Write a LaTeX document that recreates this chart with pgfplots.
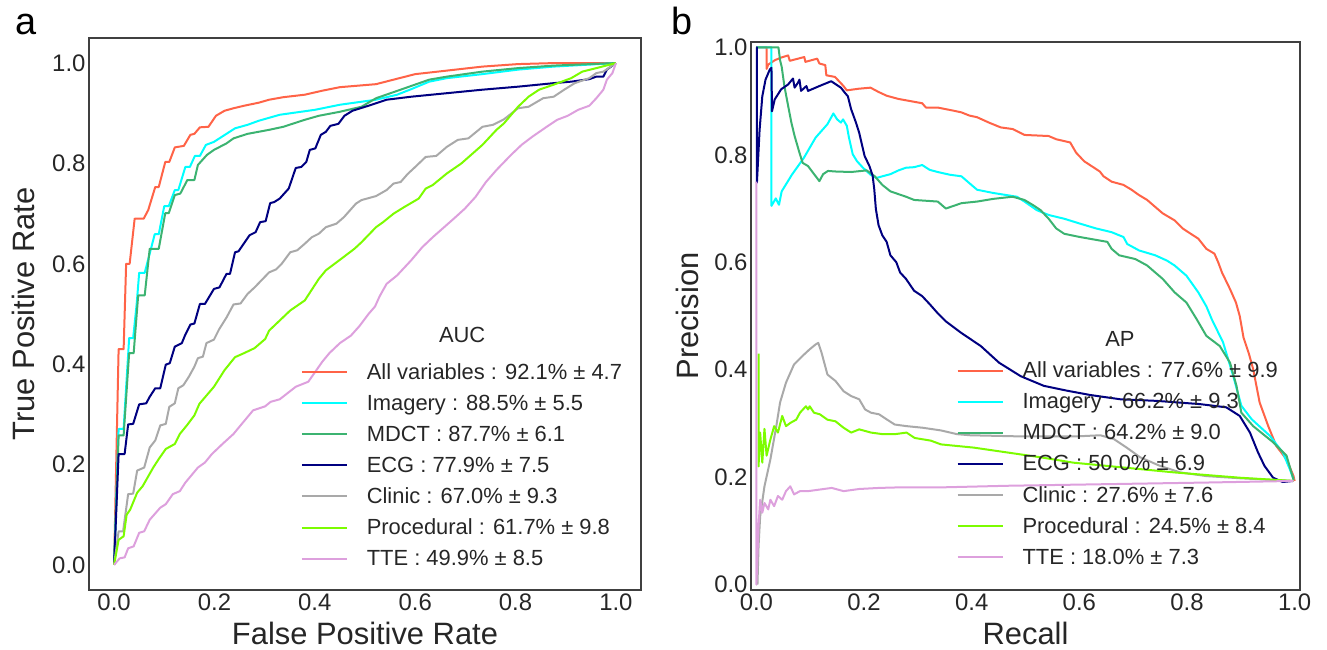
\documentclass[border=0pt]{standalone}
\usepackage{fontspec}
\setmainfont{Liberation Sans}
\usepackage{pgfplots}
\pgfplotsset{compat=1.18}

\definecolor{cAll}{RGB}{255,99,71}
\definecolor{cImg}{RGB}{0,255,255}
\definecolor{cMdct}{RGB}{60,179,113}
\definecolor{cEcg}{RGB}{0,0,128}
\definecolor{cCli}{RGB}{169,169,169}
\definecolor{cProc}{RGB}{124,252,0}
\definecolor{cTte}{RGB}{221,160,221}
\definecolor{txt}{RGB}{38,38,38}

\pgfplotsset{
  panel/.style={
    scale only axis,
    axis line style={black!75, line width=1.5bp},
    major tick length=0pt, tick style={draw=none},
    xtick={0,0.2,0.4,0.6,0.8,1}, ytick={0,0.2,0.4,0.6,0.8,1},
    ticklabel style={font=\fontsize{24}{28}\selectfont, text=txt},
    /pgf/number format/assume math mode=true,
    /pgf/number format/.cd, fixed, fixed zerofill, precision=1, /pgfplots/.cd,
    label style={font=\fontsize{31}{36}\selectfont, text=txt},
    xlabel style={at={(axis description cs:0.5,0)}, anchor=base, yshift=-54bp},
    every axis plot/.append style={line width=2bp, line join=round},
    legend cell align=left,
    legend style={draw=none, fill=none, font=\fontsize{22}{26}\selectfont, text=txt,
      inner sep=0pt, outer sep=0pt, row sep=14.1bp, anchor=south east,
      nodes={inner xsep=9bp, inner ysep=0bp},
      /tikz/every odd column/.append style={column sep=10bp}},
    legend image code/.code={\draw[#1] (0bp,0bp) -- (45bp,0bp);},
  }
}

\begin{document}
\begin{tikzpicture}
\useasboundingbox (0,0) rectangle (1327bp,650bp);

\node[anchor=base, font=\fontsize{38}{44}\selectfont, text=black] at (26bp,615bp) {a};
\node[anchor=base, font=\fontsize{38}{44}\selectfont, text=black] at (682bp,615bp) {b};

% ---------- ROC ----------
\begin{axis}[panel,
  at={(89bp,60bp)}, anchor=south west,
  width=552bp, height=552bp,
  xmin=-0.05, xmax=1.05, ymin=-0.05, ymax=1.05,
  xlabel={False Positive Rate}, ylabel={True Positive Rate},
  ylabel style={at={(axis description cs:-0.098,0.5)}, anchor=base},
  legend style={at={(axis description cs:0.982,0.041)}},
]
\addplot[cAll] coordinates {(0,0) (0.009,0.43) (0.019,0.43) (0.024,0.6) (0.031,0.6) (0.041,0.69) (0.05,0.69) (0.059,0.69) (0.068,0.707) (0.082,0.753) (0.089,0.753) (0.102,0.803) (0.11,0.803) (0.121,0.832) (0.139,0.835) (0.152,0.857) (0.16,0.859) (0.171,0.872) (0.188,0.873) (0.203,0.895) (0.22,0.905) (0.238,0.91) (0.259,0.915) (0.288,0.921) (0.309,0.927) (0.337,0.932) (0.38,0.937) (0.415,0.945) (0.45,0.952) (0.522,0.958) (0.557,0.967) (0.6,0.978) (0.663,0.985) (0.734,0.993) (0.805,0.998) (0.876,1.0) (1,1)};
\addplot[cImg] coordinates {(0,0) (0.009,0.271) (0.019,0.271) (0.03,0.452) (0.038,0.452) (0.045,0.52) (0.05,0.582) (0.061,0.582) (0.081,0.659) (0.089,0.659) (0.1,0.715) (0.109,0.715) (0.121,0.747) (0.128,0.747) (0.142,0.793) (0.151,0.793) (0.161,0.815) (0.171,0.815) (0.183,0.837) (0.199,0.843) (0.241,0.87) (0.266,0.877) (0.288,0.885) (0.33,0.897) (0.401,0.907) (0.45,0.917) (0.522,0.927) (0.564,0.937) (0.592,0.948) (0.628,0.963) (0.663,0.97) (0.734,0.978) (0.805,0.987) (0.876,0.993) (1,1)};
\addplot[cMdct] coordinates {(0,0) (0.009,0.258) (0.019,0.258) (0.03,0.422) (0.039,0.422) (0.048,0.537) (0.061,0.537) (0.071,0.63) (0.089,0.63) (0.102,0.701) (0.109,0.701) (0.121,0.737) (0.132,0.74) (0.146,0.767) (0.16,0.767) (0.167,0.797) (0.185,0.817) (0.199,0.827) (0.224,0.84) (0.238,0.85) (0.266,0.859) (0.309,0.867) (0.337,0.873) (0.38,0.887) (0.408,0.895) (0.45,0.903) (0.493,0.913) (0.522,0.93) (0.571,0.947) (0.628,0.967) (0.663,0.973) (0.734,0.983) (0.805,0.99) (0.876,0.995) (1,1)};
\addplot[cEcg] coordinates {(0,0) (0.009,0.221) (0.021,0.221) (0.028,0.28) (0.038,0.281) (0.05,0.32) (0.064,0.322) (0.071,0.335) (0.082,0.352) (0.092,0.352) (0.103,0.399) (0.111,0.402) (0.121,0.435) (0.135,0.442) (0.142,0.459) (0.152,0.479) (0.16,0.481) (0.171,0.52) (0.181,0.52) (0.199,0.55) (0.21,0.553) (0.224,0.58) (0.231,0.58) (0.241,0.623) (0.248,0.625) (0.27,0.657) (0.282,0.663) (0.291,0.683) (0.302,0.685) (0.311,0.721) (0.319,0.723) (0.33,0.73) (0.348,0.75) (0.362,0.791) (0.373,0.793) (0.383,0.803) (0.39,0.827) (0.401,0.83) (0.412,0.857) (0.422,0.863) (0.431,0.875) (0.447,0.879) (0.459,0.895) (0.475,0.905) (0.507,0.915) (0.543,0.927) (0.592,0.933) (0.663,0.94) (0.734,0.947) (0.805,0.953) (0.876,0.96) (0.911,0.963) (0.947,0.968) (0.961,0.973) (0.975,0.973) (0.982,0.987) (1,1)};
\addplot[cCli] coordinates {(0,0) (0.009,0.067) (0.018,0.067) (0.028,0.141) (0.038,0.142) (0.046,0.188) (0.06,0.194) (0.071,0.234) (0.082,0.248) (0.092,0.278) (0.103,0.281) (0.11,0.315) (0.121,0.322) (0.128,0.352) (0.138,0.358) (0.149,0.375) (0.16,0.395) (0.167,0.412) (0.177,0.415) (0.184,0.442) (0.199,0.449) (0.209,0.469) (0.224,0.493) (0.238,0.519) (0.252,0.521) (0.266,0.54) (0.28,0.553) (0.309,0.583) (0.323,0.589) (0.334,0.6) (0.351,0.623) (0.365,0.627) (0.38,0.64) (0.394,0.653) (0.408,0.66) (0.422,0.673) (0.443,0.68) (0.458,0.693) (0.482,0.72) (0.493,0.727) (0.522,0.735) (0.543,0.747) (0.557,0.76) (0.571,0.763) (0.585,0.779) (0.599,0.792) (0.621,0.813) (0.642,0.815) (0.663,0.833) (0.685,0.847) (0.706,0.85) (0.734,0.873) (0.755,0.877) (0.777,0.888) (0.805,0.91) (0.826,0.913) (0.855,0.93) (0.876,0.933) (0.897,0.947) (0.918,0.96) (0.947,0.97) (0.961,0.98) (0.975,0.983) (1,1)};
\addplot[cProc] coordinates {(0,0) (0.009,0.05) (0.019,0.057) (0.025,0.1) (0.032,0.11) (0.046,0.144) (0.057,0.157) (0.078,0.194) (0.089,0.211) (0.103,0.231) (0.121,0.241) (0.131,0.261) (0.145,0.278) (0.16,0.298) (0.17,0.321) (0.199,0.355) (0.22,0.388) (0.241,0.414) (0.259,0.422) (0.28,0.432) (0.301,0.45) (0.309,0.467) (0.33,0.487) (0.351,0.507) (0.38,0.527) (0.408,0.57) (0.422,0.587) (0.45,0.608) (0.479,0.63) (0.493,0.643) (0.522,0.673) (0.536,0.683) (0.557,0.7) (0.578,0.713) (0.607,0.73) (0.621,0.75) (0.635,0.757) (0.663,0.78) (0.692,0.8) (0.734,0.837) (0.762,0.867) (0.777,0.88) (0.805,0.913) (0.826,0.933) (0.847,0.947) (0.876,0.957) (0.911,0.97) (0.933,0.983) (0.961,0.99) (1,1)};
\addplot[cTte] coordinates {(0,0) (0.011,0.013) (0.021,0.015) (0.028,0.033) (0.039,0.037) (0.05,0.064) (0.06,0.067) (0.071,0.09) (0.092,0.114) (0.103,0.121) (0.117,0.141) (0.131,0.147) (0.142,0.164) (0.167,0.194) (0.181,0.204) (0.195,0.221) (0.216,0.241) (0.238,0.261) (0.252,0.278) (0.277,0.308) (0.301,0.316) (0.312,0.325) (0.33,0.33) (0.362,0.355) (0.387,0.365) (0.415,0.405) (0.429,0.422) (0.45,0.442) (0.472,0.457) (0.489,0.476) (0.507,0.5) (0.52,0.515) (0.529,0.535) (0.543,0.56) (0.564,0.577) (0.592,0.607) (0.614,0.633) (0.635,0.653) (0.677,0.69) (0.699,0.71) (0.72,0.733) (0.741,0.763) (0.762,0.787) (0.791,0.817) (0.812,0.837) (0.833,0.853) (0.862,0.873) (0.883,0.887) (0.904,0.895) (0.925,0.907) (0.947,0.915) (0.961,0.93) (0.975,0.947) (0.982,0.967) (0.993,0.98) (1,1)};
\legend{All variables : 92.1\% ± 4.7, Imagery : 88.5\% ± 5.5, MDCT : 87.7\% ± 6.1, ECG : 77.9\% ± 7.5, Clinic : 67.0\% ± 9.3, Procedural : 61.7\% ± 9.8, TTE : 49.9\% ± 8.5}
\node[anchor=base, font=\fontsize{22}{26}\selectfont, text=txt] at (axis description cs:0.676,0.4475) {AUC};
\end{axis}

% ---------- Precision-Recall ----------
\begin{axis}[panel,
  at={(751bp,60bp)}, anchor=south west,
  width=549bp, height=548bp,
  xmin=-0.01, xmax=1.01, ymin=-0.01, ymax=1.01,
  xlabel={Recall}, ylabel={Precision},
  ylabel style={at={(axis description cs:-0.0965,0.5)}, anchor=base},
  legend style={at={(axis description cs:0.976,0.044)}},
]
\addplot[cAll] coordinates {(0,1) (0.019,1) (0.019,0.96) (0.022,0.968) (0.034,0.976) (0.046,0.981) (0.059,0.985) (0.062,0.975) (0.089,0.982) (0.091,0.973) (0.113,0.979) (0.117,0.97) (0.128,0.967) (0.13,0.948) (0.146,0.945) (0.161,0.929) (0.168,0.92) (0.19,0.923) (0.212,0.925) (0.227,0.917) (0.242,0.91) (0.264,0.904) (0.286,0.9) (0.308,0.896) (0.315,0.888) (0.337,0.888) (0.367,0.882) (0.381,0.879) (0.396,0.873) (0.41,0.87) (0.432,0.86) (0.454,0.851) (0.476,0.848) (0.498,0.837) (0.543,0.835) (0.557,0.829) (0.583,0.823) (0.594,0.804) (0.609,0.788) (0.638,0.769) (0.645,0.76) (0.66,0.75) (0.682,0.744) (0.697,0.735) (0.711,0.725) (0.726,0.716) (0.741,0.703) (0.755,0.691) (0.777,0.678) (0.792,0.663) (0.807,0.653) (0.821,0.644) (0.836,0.625) (0.851,0.616) (0.858,0.6) (0.865,0.581) (0.88,0.55) (0.891,0.525) (0.898,0.5) (0.905,0.46) (0.915,0.43) (0.923,0.401) (0.935,0.339) (0.951,0.295) (0.966,0.258) (0.985,0.233) (0.998,0.202) (1.0,0.193)};
\addplot[cImg] coordinates {(0,1) (0.028,1) (0.028,0.705) (0.031,0.71) (0.036,0.719) (0.042,0.707) (0.047,0.732) (0.066,0.763) (0.088,0.794) (0.11,0.832) (0.132,0.857) (0.143,0.877) (0.15,0.866) (0.157,0.86) (0.161,0.866) (0.168,0.854) (0.172,0.832) (0.179,0.801) (0.187,0.788) (0.198,0.776) (0.212,0.763) (0.223,0.757) (0.234,0.76) (0.249,0.764) (0.264,0.771) (0.278,0.776) (0.293,0.777) (0.308,0.781) (0.322,0.772) (0.337,0.768) (0.359,0.763) (0.381,0.76) (0.396,0.747) (0.41,0.735) (0.44,0.729) (0.484,0.722) (0.498,0.713) (0.521,0.697) (0.543,0.688) (0.572,0.681) (0.601,0.672) (0.631,0.663) (0.66,0.656) (0.682,0.647) (0.689,0.634) (0.711,0.622) (0.741,0.613) (0.763,0.603) (0.777,0.594) (0.799,0.575) (0.821,0.544) (0.836,0.518) (0.846,0.494) (0.867,0.451) (0.886,0.388) (0.901,0.333) (0.92,0.308) (0.954,0.277) (0.978,0.246) (0.991,0.215) (0.998,0.196)};
\addplot[cMdct] coordinates {(0,1) (0.041,1) (0.044,0.976) (0.047,0.964) (0.052,0.928) (0.059,0.891) (0.065,0.86) (0.071,0.835) (0.08,0.804) (0.086,0.785) (0.096,0.779) (0.105,0.767) (0.117,0.751) (0.124,0.764) (0.133,0.77) (0.146,0.769) (0.176,0.768) (0.205,0.771) (0.22,0.76) (0.234,0.744) (0.249,0.732) (0.278,0.722) (0.293,0.716) (0.337,0.713) (0.352,0.7) (0.381,0.71) (0.41,0.713) (0.44,0.718) (0.476,0.722) (0.498,0.716) (0.513,0.707) (0.528,0.697) (0.543,0.681) (0.557,0.663) (0.572,0.653) (0.601,0.647) (0.652,0.638) (0.66,0.625) (0.674,0.613) (0.704,0.606) (0.726,0.594) (0.741,0.581) (0.755,0.569) (0.777,0.544) (0.799,0.525) (0.818,0.494) (0.836,0.463) (0.861,0.444) (0.88,0.413) (0.892,0.37) (0.901,0.32) (0.923,0.295) (0.96,0.265) (0.985,0.24) (0.994,0.209) (0.998,0.195)};
\addplot[cEcg] coordinates {(0,1) (0.001,1) (0.001,0.748) (0.006,0.847) (0.011,0.909) (0.017,0.94) (0.025,0.959) (0.028,0.962) (0.029,0.881) (0.034,0.903) (0.046,0.922) (0.059,0.931) (0.068,0.942) (0.071,0.925) (0.077,0.934) (0.08,0.94) (0.083,0.919) (0.093,0.928) (0.096,0.919) (0.117,0.928) (0.139,0.937) (0.148,0.931) (0.157,0.925) (0.164,0.916) (0.17,0.909) (0.176,0.885) (0.185,0.86) (0.191,0.841) (0.201,0.798) (0.21,0.779) (0.216,0.761) (0.219,0.736) (0.222,0.699) (0.227,0.669) (0.234,0.65) (0.242,0.638) (0.249,0.613) (0.26,0.6) (0.267,0.581) (0.278,0.569) (0.293,0.547) (0.308,0.537) (0.322,0.522) (0.337,0.505) (0.352,0.49) (0.38,0.469) (0.417,0.444) (0.451,0.413) (0.491,0.388) (0.534,0.37) (0.577,0.361) (0.62,0.353) (0.676,0.345) (0.744,0.342) (0.824,0.336) (0.873,0.33) (0.898,0.314) (0.917,0.283) (0.932,0.246) (0.944,0.221) (0.96,0.199) (0.978,0.191) (0.998,0.193)};
\addplot[cCli] coordinates {(0.002,0.0) (0.004,0.071) (0.007,0.127) (0.015,0.183) (0.026,0.233) (0.037,0.295) (0.044,0.339) (0.055,0.376) (0.07,0.41) (0.085,0.425) (0.099,0.438) (0.11,0.447) (0.115,0.45) (0.121,0.432) (0.132,0.391) (0.147,0.379) (0.162,0.36) (0.176,0.351) (0.191,0.345) (0.202,0.326) (0.213,0.32) (0.228,0.317) (0.243,0.307) (0.257,0.298) (0.279,0.295) (0.309,0.292) (0.343,0.287) (0.373,0.28) (0.397,0.278) (0.485,0.276) (0.596,0.276) (0.639,0.278) (0.664,0.271) (0.688,0.255) (0.713,0.237) (0.75,0.221) (0.787,0.209) (0.836,0.202) (0.898,0.198) (0.998,0.193)};
\addplot[cProc] coordinates {(0.004,0.43) (0.004,0.22) (0.007,0.283) (0.011,0.227) (0.015,0.29) (0.019,0.24) (0.026,0.27) (0.033,0.295) (0.04,0.283) (0.048,0.314) (0.055,0.295) (0.063,0.301) (0.074,0.307) (0.081,0.32) (0.092,0.332) (0.096,0.326) (0.099,0.332) (0.107,0.32) (0.118,0.317) (0.132,0.307) (0.147,0.304) (0.162,0.292) (0.176,0.283) (0.191,0.289) (0.213,0.283) (0.235,0.28) (0.257,0.28) (0.279,0.283) (0.294,0.273) (0.324,0.268) (0.343,0.261) (0.404,0.255) (0.466,0.246) (0.528,0.237) (0.589,0.227) (0.651,0.221) (0.713,0.215) (0.775,0.209) (0.836,0.204) (0.898,0.199) (0.998,0.193)};
\addplot[cTte] coordinates {(0,0.75) (0,0.0) (0.004,0.109) (0.007,0.158) (0.011,0.134) (0.015,0.152) (0.022,0.14) (0.026,0.158) (0.033,0.146) (0.04,0.165) (0.048,0.158) (0.055,0.174) (0.063,0.183) (0.07,0.168) (0.081,0.174) (0.096,0.174) (0.118,0.177) (0.14,0.18) (0.162,0.174) (0.191,0.178) (0.228,0.18) (0.265,0.181) (0.343,0.181) (0.466,0.184) (0.651,0.187) (0.836,0.19) (0.998,0.193)};
\legend{All variables : 77.6\% ± 9.9, Imagery : 66.2\% ± 9.3, MDCT : 64.2\% ± 9.0, ECG : 50.0\% ± 6.9, Clinic : 27.6\% ± 7.6, Procedural : 24.5\% ± 8.4, TTE : 18.0\% ± 7.3}
\node[anchor=base, font=\fontsize{22}{26}\selectfont, text=txt] at (axis description cs:0.672,0.445) {AP};
\end{axis}
\end{tikzpicture}
\end{document}
